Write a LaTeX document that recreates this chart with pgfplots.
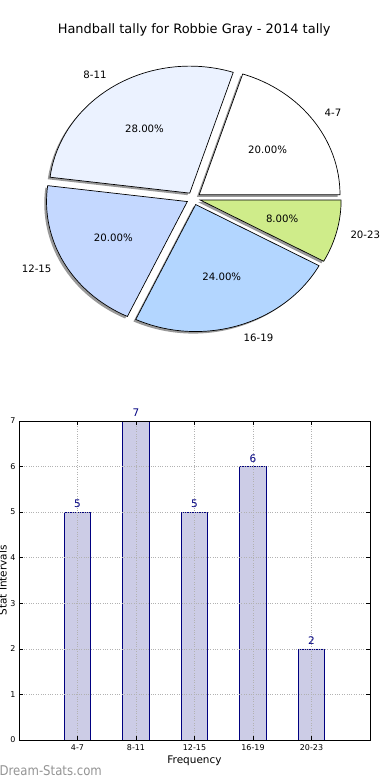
\documentclass[border=0pt]{standalone}
\usepackage{fontspec}
\setmainfont{DejaVu Sans}
\usepackage{pgfplots}
\pgfplotsset{compat=1.18}

\definecolor{c1}{HTML}{FFFFFF}
\definecolor{c2}{HTML}{EBF2FF}
\definecolor{c3}{HTML}{C4D8FF}
\definecolor{c4}{HTML}{B3D6FF}
\definecolor{c5}{HTML}{CFEC8A}
\definecolor{barfill}{HTML}{CCCCE6}
\definecolor{navyc}{HTML}{000080}

\def\rx{140.8bp}
\def\ry{127bp}
\newcommand\pief{\fontsize{10.2}{12}\selectfont}
% #1 cumulative start value, #2 value (total 25), #3 colour, #4 label, #5 percent, #6 label anchor
\newcommand\pieslice[6]{%
 \fill[black, opacity=0.4] (axis cs:{0.05*cos(360/25*(#1+#2/2))-0.016},{0.05*sin(360/25*(#1+#2/2))-0.016})
   -- (axis cs:{0.05*cos(360/25*(#1+#2/2))-0.016+cos(360/25*#1)},{0.05*sin(360/25*(#1+#2/2))-0.016+sin(360/25*#1)})
   arc[start angle={360/25*#1}, end angle={360/25*(#1+#2)}, x radius=\rx, y radius=\ry] -- cycle;
 \draw[fill=#3, line width=0.7bp, line join=miter] (axis cs:{0.05*cos(360/25*(#1+#2/2))},{0.05*sin(360/25*(#1+#2/2))})
   -- (axis cs:{0.05*cos(360/25*(#1+#2/2))+cos(360/25*#1)},{0.05*sin(360/25*(#1+#2/2))+sin(360/25*#1)})
   arc[start angle={360/25*#1}, end angle={360/25*(#1+#2)}, x radius=\rx, y radius=\ry] -- cycle;
 \node[font=\pief, inner sep=0pt] at (axis cs:{0.65*cos(360/25*(#1+#2/2))},{0.65*sin(360/25*(#1+#2/2))}) {#5};
 \node[font=\pief, inner sep=0pt, anchor=#6] at (axis cs:{1.15*cos(360/25*(#1+#2/2))},{1.15*sin(360/25*(#1+#2/2))}) {#4};
}

\begin{document}
\begin{tikzpicture}
\useasboundingbox (0,0) rectangle (390bp,780bp);

\node[font=\fontsize{13}{15}\selectfont, anchor=base] at (194.2bp,746bp) {Handball tally for Robbie Gray - 2014 tally};

\begin{axis}[at={(193.5bp,581.5bp)}, anchor=origin, scale only axis,
  width=281.6bp, height=254bp, xmin=-1, xmax=1, ymin=-1, ymax=1,
  hide axis, clip=false]
\pieslice{0}{5}{c1}{4-7}{20.00\%}{west}
\pieslice{5}{7}{c2}{8-11}{28.00\%}{east}
\pieslice{12}{5}{c3}{12-15}{20.00\%}{east}
\pieslice{17}{6}{c4}{16-19}{24.00\%}{west}
\pieslice{23}{2}{c5}{20-23}{8.00\%}{west}
\end{axis}

\begin{axis}[at={(19bp,40bp)}, anchor=south west, scale only axis,
  width=351bp, height=319bp,
  xmin=-1, xmax=5, ymin=0, ymax=7,
  xtick={0,1,2,3,4}, xticklabels={4-7,8-11,12-15,16-19,20-23},
  ytick={0,1,2,3,4,5,6,7},
  grid=major, grid style={gray!60, dotted, line width=0.7bp},
  axis on top, tick align=inside, major tick length=4bp,
  tick style={black, line width=0.5bp},
  axis line style={line width=0.8bp},
  ticklabel style={font=\fontsize{8}{9}\selectfont},
  xticklabel style={yshift=-1bp},
  /pgf/number format/assume math mode=true,
  xlabel={Frequency}, ylabel={Stat Intervals},
  every axis x label/.style={at={(axis description cs:0.5,0)}, anchor=base, yshift=-23bp, font=\fontsize{10.5}{12}\selectfont},
  every axis y label/.style={at={(axis description cs:0,0.5)}, rotate=90, anchor=base, yshift=12.5bp, font=\fontsize{10.5}{12}\selectfont},
  ]
\addplot[ybar, bar width=0.45, fill=barfill, draw=navyc, line width=0.7bp,
  nodes near coords,
  every node near coord/.append style={font=\fontsize{10.5}{12}\selectfont, text=navyc, anchor=south, inner sep=0pt, yshift=4bp}]
  coordinates {(0,5) (1,7) (2,5) (3,6) (4,2)};
\end{axis}

\node[anchor=base west, text=black!42, font=\fontsize{13.5}{15}\selectfont, xscale=0.87, inner sep=0pt] at (-0.5bp,5bp) {Dream-Stats.com};
\end{tikzpicture}
\end{document}
